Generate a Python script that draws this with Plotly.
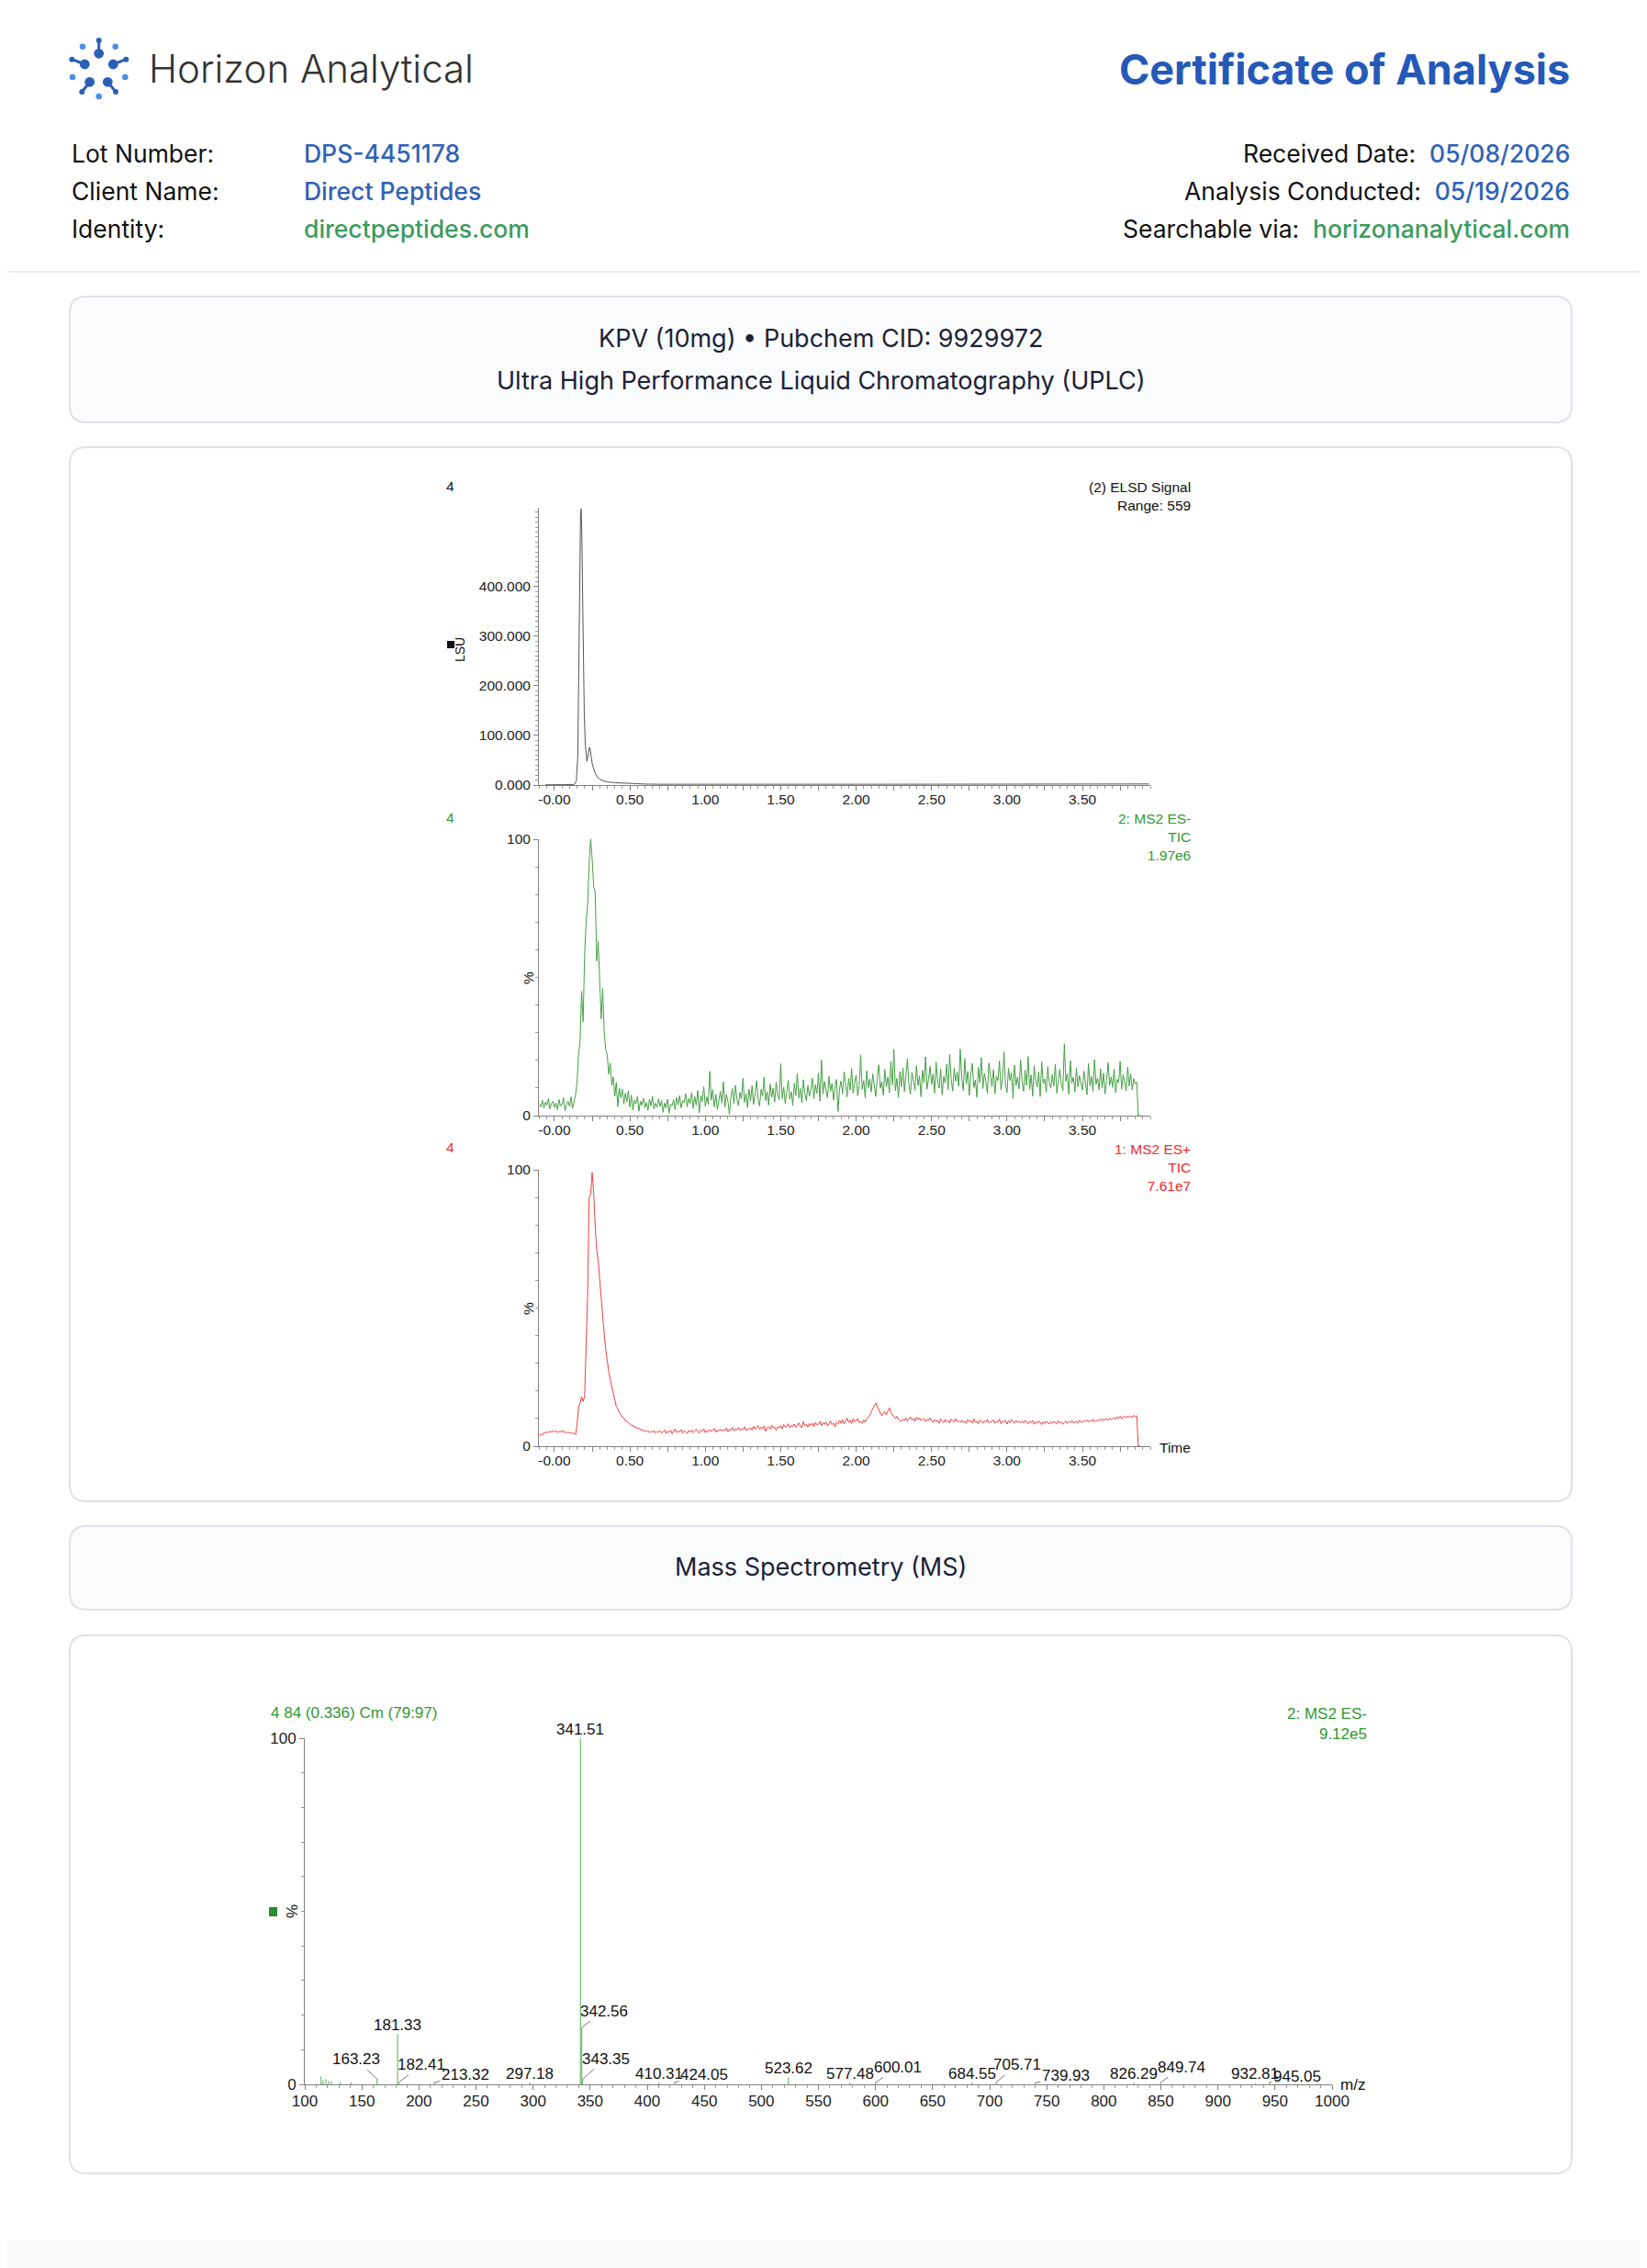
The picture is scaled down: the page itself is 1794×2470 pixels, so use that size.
import plotly.graph_objects as go

W, H = 1794, 2470
OFF = 8  # the page body adds this margin around the figure

# ---- ELSD trace (time in min, signal in LSU x1000)
elsd_time = [-0.06, 0.00, 0.05, 0.10, 0.13, 0.145, 0.155, 0.162, 0.168, 0.173, 0.177, 0.181,
             0.186, 0.192, 0.198, 0.204, 0.210, 0.215, 0.220, 0.226, 0.232, 0.237, 0.243, 0.250,
             0.259, 0.270, 0.285, 0.30, 0.33, 0.36, 0.40, 0.45, 0.50, 0.55, 0.60, 0.70, 0.80,
             1.00, 1.50, 2.00, 2.50, 3.00, 3.50, 3.94]
elsd_lsu = [0.5, 0.5, 0.6, 0.7, 1.0, 8, 60, 250, 470, 545, 557, 520,
            400, 250, 140, 85, 55, 48, 55, 70, 76, 72, 58, 44,
            34, 24, 16, 12, 8, 6, 5, 4, 3.5, 2.5, 2.0, 1.6, 1.5,
            1.4, 1.5, 1.6, 1.7, 1.9, 2.0, 2.2]

# ---- TIC traces, one reading every 0.01 min from -0.10 min
tic_start, tic_step = -0.10, 0.01
es_neg_pct = [
    4.1, 3.2, 5.6, 2.8, 4.9, 3.7, 6.2, 2.5, 4.4, 5.1, 3.0, 4.6, 2.2, 5.8, 3.5, 4.0, 6.5, 1.8, 3.9, 5.2,
    3.4, 6.8, 2.6, 4.7, 7.5, 12, 22, 27, 45, 34, 58, 70, 76, 91, 100, 93, 83, 81, 56, 63,
    47, 35, 46, 30, 24, 22, 15, 19, 11, 14, 7.0, 12, 3.2, 10, 6.5, 9.6, 4.2, 8.1, 5.0, 9.0,
    3.1, 7.4, 2.0, 5.6, 4.2, 6.9, 1.6, 5.2, 3.8, 6.3, 2.9, 4.8, 1.9, 5.9, 3.5, 7.0, 2.4, 4.5, 3.0, 6.1,
    3.3, 5.5, 1.2, 4.6, 2.7, 6.0, 0.9, 4.1, 3.6, 5.8, 2.1, 6.6, 3.9, 7.3, 2.8, 5.4, 4.7, 8.0, 3.2, 6.2,
    4.4, 8.3, 2.6, 6.9, 3.8, 9.1, 1.0, 7.2, 5.1, 10.5, 3.4, 6.8, 4.0, 16.0, 5.6, 9.4, 3.1, 7.7, 2.3, 6.4,
    8.8, 4.5, 12.2, 3.0, 7.6, 5.2, 0.5, 6.9, 9.8, 4.3, 11.0, 5.9, 3.6, 8.4, 6.1, 13.5, 4.8, 7.9, 2.9, 9.6,
    5.3, 10.8, 4.1, 8.2, 12.6, 6.0, 3.5, 9.5, 7.1, 14.0, 5.4, 8.7, 3.8, 11.4, 6.6, 9.9, 4.9, 12.1, 7.5, 5.7,
    18.8, 6.2, 10.3, 4.4, 9.0, 12.8, 5.9, 8.6, 3.7, 11.7, 7.3, 15.2, 6.4, 9.8, 4.6, 13.0, 8.1, 5.5, 10.9, 7.0,
    9.4, 13.6, 6.1, 11.2, 8.0, 15.4, 5.3, 20.1, 7.8, 12.4, 9.1, 6.5, 14.2, 8.8, 11.6, 5.6, 10.3, 13.1, 1.5, 9.7,
    12.5, 7.9, 15.8, 10.2, 6.8, 13.4, 9.3, 17.0, 8.1, 11.9, 14.6, 7.2, 10.8, 22.0, 9.5, 12.7, 6.4, 16.2, 10.1, 13.3,
    8.6, 15.1, 11.7, 6.9, 13.8, 18.4, 9.9, 12.2, 7.4, 16.7, 10.5, 14.0, 8.3, 19.6, 11.1, 24.0, 9.0, 13.5, 6.6, 15.9,
    10.4, 17.3, 8.7, 13.9, 20.5, 11.0, 7.8, 15.6, 12.5, 9.2, 18.1, 10.9, 14.4, 6.8, 16.4, 12.0, 21.3, 9.6, 13.2, 17.8,
    11.3, 15.0, 8.2, 19.4, 12.6, 10.0, 16.9, 7.5, 14.1, 11.8, 18.6, 9.4, 22.2, 13.0, 8.9, 17.2, 12.4, 15.7, 10.6, 24.1,
    13.6, 9.1, 20.7, 11.5, 16.0, 7.3, 14.8, 18.9, 10.2, 12.9, 6.7, 17.5, 11.9, 21.0, 9.8, 15.3, 12.1, 8.0, 19.0, 13.7,
    10.5, 16.6, 7.9, 14.3, 12.7, 19.8, 9.3, 13.4, 23.0, 11.2, 8.4, 17.1, 12.8, 15.5, 6.2, 18.3, 10.9, 13.9, 9.7, 20.2,
    12.3, 8.8, 16.4, 11.0, 21.4, 9.5, 14.7, 7.0, 18.0, 12.9, 10.3, 15.8, 6.9, 19.5, 11.6, 13.3, 8.5, 17.7, 12.0, 9.9,
    14.9, 10.7, 18.6, 8.1, 13.1, 16.8, 11.4, 9.0, 26.0, 12.4, 15.2, 7.7, 19.9, 11.8, 13.8, 8.6, 17.3, 10.4, 14.5, 12.2,
    9.2, 16.1, 12.6, 7.6, 18.8, 10.8, 14.2, 8.7, 20.3, 11.3, 13.6, 9.4, 17.0, 10.1, 15.4, 7.9, 12.9, 19.2, 11.0, 14.0,
    10.2, 16.9, 8.3, 13.1, 11.9, 19.7, 9.6, 14.8, 12.1, 8.9, 17.6, 10.7, 15.1, 9.3, 13.4, 11.5, 12.2, 0.0, 0.0, 0.0,
]
es_pos_pct = [
    3.6, 4.4, 4.0, 4.9, 4.6, 5.3, 4.8, 5.5, 5.0, 5.7, 5.2, 5.6, 4.9, 5.4, 5.1, 5.8, 5.0, 5.3, 4.7, 5.2,
    4.6, 5.0, 4.5, 4.8, 4.2, 8.0, 14.2, 15.6, 17.9, 16.2, 18.0, 35, 55, 90, 91, 99, 92, 80, 71, 67,
    60, 52.5, 46, 40.5, 35, 30.5, 27, 24, 21.5, 18.5, 16.8, 14.4, 13.6, 12.1, 11.6, 10.5, 10.3, 9.2, 9.1, 8.4,
    8.1, 7.4, 7.6, 6.8, 7.0, 6.3, 6.6, 5.9, 6.1, 5.4, 5.8, 5.2, 5.6, 4.9, 5.5, 5.0, 5.7, 4.8, 5.3, 5.1,
    5.6, 4.7, 5.2, 5.9, 4.6, 5.4, 5.0, 5.8, 4.5, 5.3, 6.2, 4.9, 5.5, 5.1, 6.0, 4.8, 5.6, 5.2, 4.6, 5.7,
    5.0, 5.8, 4.9, 5.5, 6.1, 5.2, 4.8, 5.9, 5.4, 6.3, 4.9, 5.6, 5.1, 6.0, 5.3, 5.7, 6.4, 5.0, 5.8, 5.5,
    6.2, 5.4, 6.0, 5.6, 6.5, 5.2, 6.1, 5.8, 6.7, 5.5, 6.3, 5.9, 6.8, 5.7, 6.2, 6.0, 7.0, 5.6, 6.4, 6.1,
    6.6, 5.9, 7.2, 6.1, 6.8, 7.5, 6.0, 6.9, 6.3, 7.3, 5.4, 6.7, 7.0, 6.2, 7.6, 6.5, 6.9, 5.8, 7.1, 6.6,
    7.4, 6.3, 7.8, 6.9, 7.2, 8.1, 6.6, 7.5, 7.0, 8.0, 6.8, 7.7, 8.4, 7.1, 6.7, 8.9, 7.3, 7.9, 6.9, 8.2,
    7.5, 8.3, 7.1, 8.6, 7.7, 8.0, 9.0, 7.4, 8.5, 7.9, 8.8, 7.3, 8.2, 9.1, 7.8, 8.4, 7.0, 8.7, 8.1, 9.3,
    8.3, 9.6, 8.0, 8.9, 10.2, 8.6, 9.4, 8.2, 9.9, 8.8, 9.2, 10.0, 8.5, 9.0, 8.3, 9.5, 8.7, 9.8, 10.3, 11.1,
    12.4, 13.6, 14.8, 15.6, 14.3, 13.2, 12.0, 11.0, 11.8, 12.5, 11.4, 12.7, 13.9, 12.2, 11.5, 10.6, 10.0, 10.8, 9.6, 9.2,
    9.0, 9.8, 9.3, 10.2, 9.1, 9.9, 10.6, 9.4, 10.1, 9.0, 10.5, 9.6, 10.3, 9.2, 9.8, 10.0, 8.9, 9.7, 9.3, 10.2,
    9.1, 8.6, 9.6, 8.9, 9.4, 8.3, 9.9, 9.0, 8.5, 9.7, 8.8, 9.3, 8.4, 9.8, 9.1, 8.7, 10.0, 8.9, 9.2, 8.6,
    9.4, 8.5, 9.1, 8.2, 9.6, 8.8, 9.3, 8.4, 9.9, 8.7, 9.0, 8.1, 9.5, 8.9, 8.3, 9.2, 8.6, 9.7, 8.4, 9.0,
    8.8, 9.5, 8.3, 9.0, 8.6, 9.8, 8.2, 9.1, 8.7, 9.4, 8.0, 9.2, 8.5, 9.6, 8.9, 8.3, 9.3, 8.6, 9.0, 8.4,
    9.1, 8.4, 9.4, 8.7, 8.1, 9.0, 8.5, 9.3, 7.9, 8.8, 8.3, 9.2, 8.6, 7.8, 8.9, 8.2, 9.1, 8.5, 8.0, 8.7,
    8.3, 9.0, 8.6, 8.1, 9.2, 8.4, 8.8, 7.9, 8.5, 9.1, 8.2, 8.9, 8.6, 9.3, 8.4, 8.7, 9.0, 8.3, 9.4, 8.8,
    8.6, 9.2, 8.9, 9.5, 8.7, 9.3, 9.0, 9.8, 8.8, 9.4, 9.1, 9.7, 9.2, 10.0, 9.3, 9.6, 9.9, 9.4, 10.2, 9.6,
    9.8, 10.4, 9.7, 10.6, 10.1, 10.9, 9.9, 10.5, 10.8, 10.2, 11.0, 10.4, 10.9, 10.3, 11.2, 10.6, 11.0, 0.0, 0.0, 0.0,
]
tic_time = [round(tic_start + i * tic_step, 2) for i in range(len(es_neg_pct))]

# ---- MS spectrum, scan 84 (m/z, relative intensity %)
ms_mz = [114.2, 116.0, 118.5, 121.0, 123.4, 131.0, 140.5, 163.23, 181.33, 182.41, 213.32,
         297.18, 341.51, 342.56, 343.35, 410.31, 424.05, 523.62, 577.48, 600.01, 684.55,
         705.71, 739.93, 826.29, 849.74, 932.81, 945.05]
ms_int = [2.3, 1.2, 1.5, 1.0, 0.8, 0.6, 0.5, 1.6, 14.6, 0.6, 0.5,
          0.6, 100, 16.4, 1.5, 0.5, 0.6, 2.0, 0.5, 0.5, 0.6,
          0.6, 0.4, 0.5, 0.5, 0.4, 0.5]
ms_labelled = [163.23, 181.33, 182.41, 213.32, 297.18, 341.51, 342.56, 343.35, 410.31, 424.05,
               523.62, 577.48, 600.01, 684.55, 705.71, 739.93, 826.29, 849.74, 932.81, 945.05]

# label leader offsets in pixels (style only)
leader = {163.23: (-23, -21), 182.41: (25, -19), 213.32: (34, -9), 342.56: (24, -18),
          343.35: (25, -22), 424.05: (32, -8), 600.01: (24, -17), 705.71: (23, -19),
          739.93: (33, -8), 849.74: (23, -17), 945.05: (30, -7)}

GREEN_TXT = "#2f9a2f"
RED_TXT = "#f22a2a"
HDR = "Inter"
MONO = "Liberation Sans"


def fx(px):
    return (px - OFF) / W


def fy(py):
    return 1 - (py - OFF) / H


fig = go.Figure()

fig.add_trace(go.Scatter(x=elsd_time, y=elsd_lsu, mode="lines",
                         line=dict(color="#555555", width=1), xaxis="x", yaxis="y"))
fig.add_trace(go.Scatter(x=tic_time, y=es_neg_pct, mode="lines",
                         line=dict(color="#45a045", width=1), xaxis="x2", yaxis="y2"))
fig.add_trace(go.Scatter(x=tic_time, y=es_pos_pct, mode="lines",
                         line=dict(color="#f04040", width=1), xaxis="x3", yaxis="y3"))

stick_x, stick_y = [], []
for m, v in zip(ms_mz, ms_int):
    stick_x += [m, m, None]
    stick_y += [0, v, None]
fig.add_trace(go.Scatter(x=stick_x, y=stick_y, mode="lines",
                         line=dict(color="#79c279", width=1.3), xaxis="x4", yaxis="y4"))

axis_base = dict(showline=True, linecolor="#808080", linewidth=1, ticks="outside",
                 tickcolor="#808080", ticklen=5, tickwidth=1, showgrid=False, zeroline=False,
                 tickfont=dict(family=MONO, size=15.5, color="#222222"))
minor_y = dict(ticks="outside", ticklen=3, tickcolor="#999999", dtick=10, tick0=0)

time_ticks = [i * 0.25 for i in range(16)]
time_text = [("-0.00" if t == 0 else f"{t:.2f}") if (i % 2 == 0) else "" for i, t in enumerate(time_ticks)]


def time_axis(anchor):
    return dict(axis_base, range=[-0.103, 3.95], tickmode="array", tickvals=time_ticks,
                ticktext=time_text, anchor=anchor, domain=[fx(587), fx(1253)],
                ticklabelstandoff=-4,
                minor=dict(ticks="outside", ticklen=3, tickcolor="#999999", dtick=0.05, tick0=0))


fig.update_layout(
    width=W, height=H, margin=dict(l=0, r=0, t=0, b=0, pad=0, autoexpand=False),
    paper_bgcolor="white", plot_bgcolor="rgba(0,0,0,0)", showlegend=False,
    xaxis=time_axis("y"),
    yaxis=dict(axis_base, range=[0, 559], tickvals=[0, 100, 200, 300, 400],
               ticktext=["0.000", "100.000", "200.000", "300.000", "400.000"],
               domain=[fy(855), fy(553)], anchor="x", minor=minor_y),
    xaxis2=time_axis("y2"),
    yaxis2=dict(axis_base, range=[0, 100], tickvals=[0, 100], domain=[fy(1215), fy(914)],
                anchor="x2", minor=minor_y),
    xaxis3=time_axis("y3"),
    yaxis3=dict(axis_base, range=[0, 100], tickvals=[0, 100], domain=[fy(1575), fy(1274)],
                anchor="x3", minor=minor_y),
    xaxis4=dict(axis_base, range=[100, 1000], dtick=50, tick0=100, anchor="y4",
                domain=[fx(332), fx(1451)], tickfont=dict(family=MONO, size=17, color="#222222"),
                ticklabelstandoff=-2,
                minor=dict(ticks="outside", ticklen=3, tickcolor="#999999", dtick=10, tick0=100)),
    yaxis4=dict(axis_base, range=[0, 100], tickvals=[0, 100], anchor="x4",
                domain=[fy(2270), fy(1893)], tickfont=dict(family=MONO, size=17, color="#222222"),
                minor=minor_y),
)

shapes = []


def rounded_box(x0, y0, x1, y1, r, fill, line="#dfe2e8"):
    X0, X1 = fx(x0), fx(x1)
    Y0, Y1 = fy(y0), fy(y1)
    rx, ry = r / W, r / H
    path = (f"M {X0 + rx},{Y0} L {X1 - rx},{Y0} Q {X1},{Y0} {X1},{Y0 - ry} "
            f"L {X1},{Y1 + ry} Q {X1},{Y1} {X1 - rx},{Y1} L {X0 + rx},{Y1} "
            f"Q {X0},{Y1} {X0},{Y1 + ry} L {X0},{Y0 - ry} Q {X0},{Y0} {X0 + rx},{Y0} Z")
    return dict(type="path", path=path, xref="paper", yref="paper", fillcolor=fill,
                line=dict(color=line, width=2), layer="below")


# page frame
shapes.append(dict(type="rect", xref="paper", yref="paper", x0=0, x1=1, y0=0, y1=fy(2440),
                   fillcolor="#f8f8f9", line=dict(width=0), layer="below"))
shapes.append(dict(type="line", xref="paper", yref="paper", x0=fx(1791), x1=fx(1791), y0=0, y1=1,
                   line=dict(color="#ebebed", width=3), layer="below"))
shapes.append(dict(type="line", xref="paper", yref="paper", x0=0, x1=fx(1790), y0=fy(296), y1=fy(296),
                   line=dict(color="#e8e9ec", width=2), layer="below"))

shapes.append(rounded_box(76, 323, 1712, 460, 18, "#fafbfd"))
shapes.append(rounded_box(76, 487, 1712, 1635, 18, "#ffffff"))
shapes.append(rounded_box(76, 1662, 1712, 1753, 18, "#fafbfd"))
shapes.append(rounded_box(76, 1781, 1712, 2367, 18, "#ffffff"))

# logo: molecule-like cluster
lcx, lcy = 107.7, 72.7
big = [(0, -14.4), (-15.4, -2.7), (15.6, -2.7), (-10, 16.6), (9.6, 16.6)]
tip = [(0, -28.7), (-29.4, -8), (29.6, -8), (-18.4, 27.3), (18.3, 27.3)]
loose = [(-17.7, -22), (18, -22), (-28.7, 11.3), (28.6, 11.3), (0, 32.3)]


def dot(dx, dy, r, color):
    return dict(type="circle", xref="paper", yref="paper", xsizemode="pixel", ysizemode="pixel",
                xanchor=fx(lcx), yanchor=fy(lcy), x0=dx - r, x1=dx + r, y0=-dy - r, y1=-dy + r,
                fillcolor=color, line=dict(width=0))


for (bx, by), (tx, ty) in zip(big, tip):
    shapes.append(dict(type="line", xref="paper", yref="paper", xsizemode="pixel", ysizemode="pixel",
                       xanchor=fx(lcx), yanchor=fy(lcy), x0=bx, x1=tx, y0=-by, y1=-ty,
                       line=dict(color="#2b5fb4", width=3)))
    shapes.append(dot(bx, by, 5.4, "#2b5fb4"))
    shapes.append(dot(tx, ty, 3.0, "#2b5fb4"))
for (sx, sy) in loose:
    shapes.append(dot(sx, sy, 3.3, "#4a8fe3"))

# small squares beside axis titles
shapes.append(dict(type="rect", xref="paper", yref="paper", x0=fx(487), x1=fx(495), y0=fy(706), y1=fy(698),
                   fillcolor="#111111", line=dict(width=0)))
shapes.append(dict(type="rect", xref="paper", yref="paper", x0=fx(293), x1=fx(302), y0=fy(2087), y1=fy(2077),
                   fillcolor="#2e8b2e", line=dict(width=0)))

ann = []


def txt(x, y, s, size, color="#111111", xa="left", ya="middle", family=HDR, weight="normal",
        angle=0, align="left"):
    ann.append(dict(x=fx(x), y=fy(y), xref="paper", yref="paper", text=s, showarrow=False,
                    xanchor=xa, yanchor=ya, textangle=angle, align=align,
                    font=dict(family=family, size=size, color=color, weight=weight)))


# header
txt(160, 75, "Horizon Analytical", 42, "#333333", weight=300)
txt(1712, 76, "Certificate of Analysis", 45, "#2459b8", xa="right", weight="bold")

BLUE_V, GREEN_V = "#2f62b5", "#3c9b5e"
left_rows = [("Lot Number:", "DPS-4451178", BLUE_V), ("Client Name:", "Direct Peptides", BLUE_V),
             ("Identity:", "directpeptides.com", GREEN_V)]
right_rows = [("Received Date:", "05/08/2026", BLUE_V), ("Analysis Conducted:", "05/19/2026", BLUE_V),
              ("Searchable via:", "horizonanalytical.com", GREEN_V)]
for i, (lab, val, col) in enumerate(left_rows):
    yy = 167 + 41 * i
    txt(76, yy, lab, 26.5, "#111111")
    txt(329, yy, val, 26.5, col, weight=500)
for i, (lab, val, col) in enumerate(right_rows):
    yy = 167 + 41 * i
    txt(1712, yy, f"{lab}\u00a0\u00a0<span style='color:{col};font-weight:500'>{val}</span>", 26.5,
        "#111111", xa="right")

txt(894, 368, "KPV (10mg) \u2022 Pubchem CID: 9929972", 27, "#1c2236", xa="center")
txt(894, 414, "Ultra High Performance Liquid Chromatography (UPLC)", 27, "#1c2236", xa="center")
txt(894, 1707, "Mass Spectrometry (MS)", 27, "#1c2236", xa="center")

# chromatogram captions
txt(490, 529, "4", 15.5, "#111111", xa="center", family=MONO)
txt(1299, 520, "(2) ELSD Signal<br>Range: 559", 15.5, "#111111", xa="right", ya="top", family=MONO, align="right")
txt(501, 708, "LSU", 14, "#111111", xa="center", family=MONO, angle=-90)

txt(490, 890, "4", 15.5, GREEN_TXT, xa="center", family=MONO)
txt(1299, 881, "2: MS2 ES-<br>TIC<br>1.97e6", 15.5, GREEN_TXT, xa="right", ya="top", family=MONO, align="right")
txt(575, 1065, "%", 15.5, "#111111", xa="center", family=MONO, angle=-90)

txt(490, 1250, "4", 15.5, RED_TXT, xa="center", family=MONO)
txt(1299, 1241, "1: MS2 ES+<br>TIC<br>7.61e7", 15.5, RED_TXT, xa="right", ya="top", family=MONO, align="right")
txt(575, 1425, "%", 15.5, "#111111", xa="center", family=MONO, angle=-90)
txt(1261, 1576, "Time", 15.5, "#111111", family=MONO)

# spectrum captions
txt(293, 1865, "4 84 (0.336) Cm (79:97)", 17, GREEN_TXT, family=MONO)
txt(1491, 1855, "2: MS2 ES-<br>9.12e5", 17, GREEN_TXT, xa="right", ya="top", family=MONO, align="right")
txt(318, 2082, "%", 17, "#111111", xa="center", family=MONO, angle=-90)
txt(1458, 2270, "m/z", 17, "#111111", family=MONO)

# peak labels
for m, v in zip(ms_mz, ms_int):
    if m not in ms_labelled:
        continue
    base = dict(x=m, y=v, xref="x4", yref="y4", text=f"{m:.2f}",
                font=dict(family=MONO, size=17, color="#111111"))
    if m in leader:
        ax, ay = leader[m]
        base.update(showarrow=True, ax=ax, ay=ay, arrowhead=0, arrowwidth=0.8,
                    arrowcolor="#555555", standoff=0, startstandoff=0)
    else:
        base.update(showarrow=False, yanchor="bottom", yshift=-2)
    ann.append(base)

fig.update_layout(shapes=shapes, annotations=ann)
fig.write_html("out.html")
